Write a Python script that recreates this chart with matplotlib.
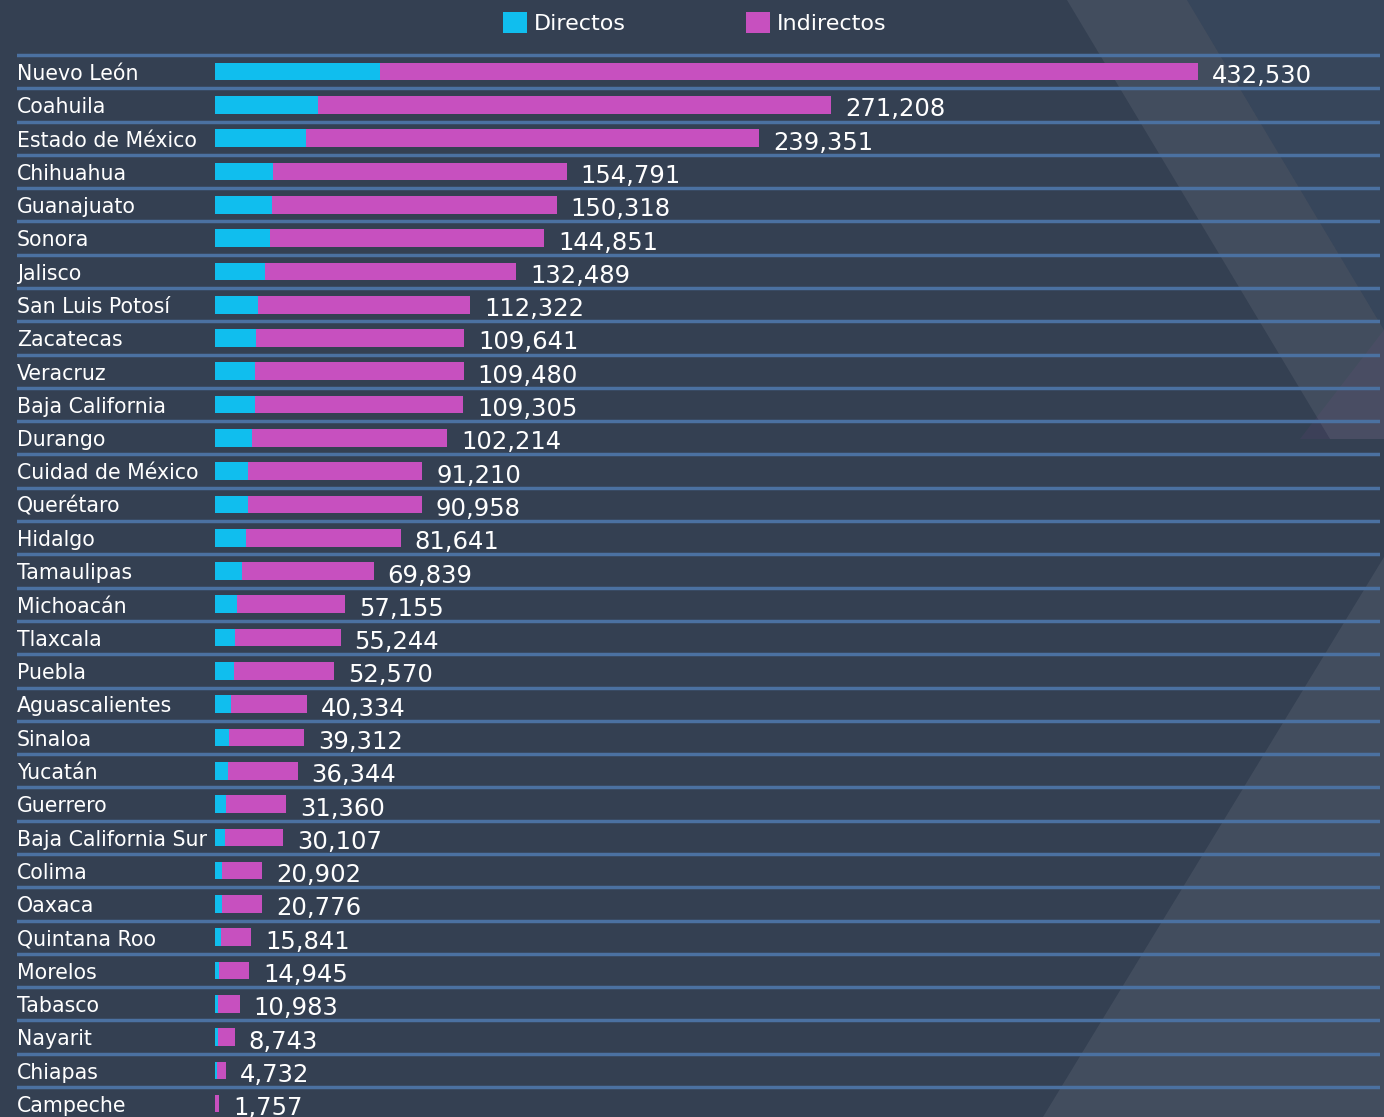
import matplotlib
matplotlib.use("Agg")
import matplotlib.pyplot as plt
from matplotlib.patches import Polygon
import matplotlib.transforms as mtransforms

# ---- data ----
estados = ["Nuevo León", "Coahuila", "Estado de México", "Chihuahua", "Guanajuato",
           "Sonora", "Jalisco", "San Luis Potosí", "Zacatecas", "Veracruz",
           "Baja California", "Durango", "Cuidad de México", "Querétaro", "Hidalgo",
           "Tamaulipas", "Michoacán", "Tlaxcala", "Puebla", "Aguascalientes",
           "Sinaloa", "Yucatán", "Guerrero", "Baja California Sur", "Colima",
           "Oaxaca", "Quintana Roo", "Morelos", "Tabasco", "Nayarit", "Chiapas",
           "Campeche"]
directos = [72700, 45200, 40100, 25500, 24900, 24100, 22000, 18800, 17900, 17600,
            17600, 16200, 14400, 14400, 13500, 11700, 9700, 8800, 8200, 7000,
            6200, 5600, 4700, 4600, 2900, 2900, 2700, 1800, 1200, 1400, 1000, 150]
indirectos = [359830, 226008, 199251, 129291, 125418, 120751, 110489, 93522, 91741,
              91880, 91705, 86014, 76810, 76558, 68141, 58139, 47455, 46444, 44370,
              33334, 33112, 30744, 26660, 25507, 18002, 17876, 13141, 13145, 9783,
              7343, 3732, 1607]
totales = [432530, 271208, 239351, 154791, 150318, 144851, 132489, 112322, 109641,
           109480, 109305, 102214, 91210, 90958, 81641, 69839, 57155, 55244, 52570,
           40334, 39312, 36344, 31360, 30107, 20902, 20776, 15841, 14945, 10983,
           8743, 4732, 1757]
series = ["Directos", "Indirectos"]

# ---- style ----
BG = "#344052"
C_DIR = "#10beee"
C_IND = "#c750bf"
LINE = "#4b71a1"
TXT = "#ffffff"

W, H = 1384, 1117
fig = plt.figure(figsize=(W / 100, H / 100), dpi=100, facecolor=BG)

# background decoration (figure coords)
def px(x, y):
    return (x / W, 1 - y / H)

deco = [
    ([(1067, 0), (1187, 0), (1384, 330), (1384, 439), (1330, 439)], "#ffffff", 0.07),
    ([(1300, 439), (1384, 330), (1384, 439)], "#c750bf", 0.06),
    ([(1384, 557), (1384, 1117), (1043, 1117)], "#ffffff", 0.07),
    ([(1187, 0), (1384, 0), (1384, 330)], "#4a6a90", 0.15),
]
for pts, col, a in deco:
    fig.patches.append(Polygon([px(*p) for p in pts], closed=True,
                               transform=fig.transFigure, facecolor=col,
                               edgecolor="none", alpha=a, zorder=-5))

ax_left, ax_right = 17, 1380
ax_top = 42
ax = fig.add_axes([ax_left / W, 0, (ax_right - ax_left) / W, (H - ax_top) / H])
ax.set_zorder(1)
ax.set_facecolor("none")
for s in ax.spines.values():
    s.set_visible(False)
ax.set_xticks([])
ax.set_yticks([])

n = len(estados)
ys = list(range(n))
bh = 0.53
b1 = ax.barh(ys, directos, height=bh, color=C_DIR, label=series[0], zorder=3)
b2 = ax.barh(ys, indirectos, left=directos, height=bh, color=C_IND,
             label=series[1], zorder=3)

ax.set_xlim(-87100, 512600)
ax.set_ylim(31.401, -0.8905)

for k in range(-1, n - 1):
    ax.axhline(k + 0.5, color=LINE, lw=2.5, zorder=2)

trans = mtransforms.blended_transform_factory(ax.transAxes, ax.transData)
for i, name in enumerate(estados):
    ax.annotate(name, xy=(0, i), xycoords=trans, xytext=(0, -6.0),
                textcoords="offset points", ha="left", va="baseline",
                fontsize=14.8, color=TXT, family="DejaVu Sans", zorder=4)
    tot = directos[i] + indirectos[i]
    ax.annotate(f"{totales[i]:,}", xy=(tot, i), xytext=(10, -8.3),
                textcoords="offset points", ha="left", va="baseline",
                fontsize=17.5, color=TXT, family="DejaVu Sans", zorder=4)

leg = fig.legend(handles=[b1, b2], labels=series, loc="center",
                 bbox_to_anchor=(695 / W, 1 - 23 / H), ncol=2, frameon=False,
                 fontsize=16, handlelength=1.08, handleheight=1.08,
                 handletextpad=0.32, columnspacing=5.4, labelcolor=TXT)

fig.savefig("out.png", dpi=100, facecolor=BG)
